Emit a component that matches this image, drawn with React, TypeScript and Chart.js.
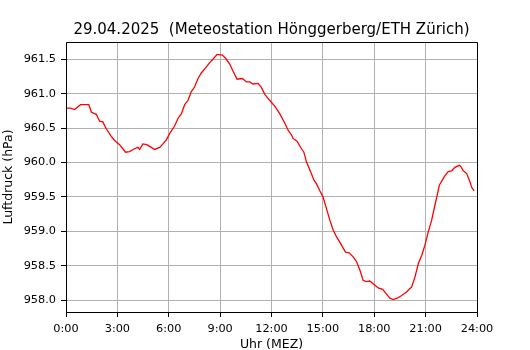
import React, { useEffect, useRef } from "react";
import { Chart, registerables } from "chart.js";

Chart.register(...registerables);

const titleText = "29.04.2025  (Meteostation Hönggerberg/ETH Zürich)";
const xLabel = "Uhr (MEZ)";
const yLabel = "Luftdruck (hPa)";

const hours = [
  0.0, 0.26, 0.5, 0.85, 1.33, 1.49, 1.77, 1.96, 2.15, 2.35, 2.64, 2.84, 3.13, 3.32, 3.48, 3.71,
  4.0, 4.2, 4.3, 4.49, 4.72, 4.98, 5.17, 5.47, 5.66, 5.86, 6.05, 6.34, 6.54, 6.74, 6.93, 7.12,
  7.32, 7.51, 7.71, 7.9, 8.2, 8.39, 8.58, 8.82, 9.13, 9.33, 9.56, 9.75, 9.99, 10.3, 10.54, 10.73,
  10.92, 11.21, 11.41, 11.61, 11.9, 12.19, 12.48, 12.78, 12.97, 13.17, 13.26, 13.49, 13.75, 13.89,
  14.04, 14.24, 14.49, 14.63, 14.82, 15.01, 15.21, 15.41, 15.6, 15.8, 16.09, 16.32, 16.53, 16.77,
  16.97, 17.16, 17.35, 17.55, 17.74, 18.04, 18.23, 18.49, 18.72, 18.91, 19.11, 19.34, 19.6, 19.89,
  20.08, 20.18, 20.38, 20.57, 20.77, 20.96, 21.15, 21.35, 21.54, 21.68, 21.8, 21.94, 22.13, 22.32,
  22.52, 22.71, 22.96, 23.06, 23.2, 23.4, 23.59, 23.69, 23.83,
];

const pressure = [
  960.79, 960.79, 960.77, 960.84, 960.84, 960.73, 960.7, 960.6, 960.59, 960.49, 960.38, 960.32,
  960.26, 960.2, 960.15, 960.16, 960.2, 960.22, 960.19, 960.27, 960.26, 960.22, 960.19, 960.22,
  960.27, 960.33, 960.42, 960.53, 960.64, 960.71, 960.84, 960.9, 961.03, 961.1, 961.22, 961.3,
  961.39, 961.45, 961.5, 961.57, 961.56, 961.51, 961.43, 961.33, 961.21, 961.22, 961.17, 961.17,
  961.14, 961.15, 961.09, 960.99, 960.9, 960.82, 960.71, 960.57, 960.47, 960.4, 960.35, 960.31,
  960.2, 960.15, 960.01, 959.89, 959.74, 959.69, 959.59, 959.5, 959.33, 959.16, 959.02, 958.92,
  958.8, 958.7, 958.69, 958.63, 958.56, 958.44, 958.29, 958.27, 958.28, 958.22, 958.18, 958.16,
  958.09, 958.03, 958.01, 958.03, 958.07, 958.12, 958.17, 958.19, 958.34, 958.53, 958.65, 958.8,
  958.99, 959.16, 959.38, 959.53, 959.67, 959.73, 959.81, 959.87, 959.88, 959.93, 959.96, 959.94,
  959.88, 959.84, 959.72, 959.64, 959.59,
];

const yTicks = [958.0, 958.5, 959.0, 959.5, 960.0, 960.5, 961.0, 961.5];
const xTicks = [0, 3, 6, 9, 12, 15, 18, 21, 24];

const FONT = "'DejaVu Sans', sans-serif";

const framePlugin = {
  id: "frameAndTexts",
  afterDatasetsDraw(chart: any) {
    const { ctx, chartArea } = chart;
    const l = Math.round(chartArea.left) + 0.5;
    const r = Math.round(chartArea.right) + 0.5;
    const t = Math.round(chartArea.top) + 0.5;
    const b = Math.round(chartArea.bottom) + 0.5;
    ctx.save();
    ctx.strokeStyle = "#000";
    ctx.lineWidth = 1;
    ctx.beginPath();
    ctx.rect(l, t, r - l, b - t);
    ctx.stroke();
    const cx = (chartArea.left + chartArea.right) / 2;
    ctx.fillStyle = "#000";
    ctx.textAlign = "center";
    ctx.textBaseline = "alphabetic";
    ctx.font = `15px ${FONT}`;
    ctx.fillText(titleText, cx, 34);
    ctx.font = `12.5px ${FONT}`;
    ctx.fillText(xLabel, cx, 348);
    ctx.translate(12, (chartArea.top + chartArea.bottom) / 2);
    ctx.rotate(-Math.PI / 2);
    ctx.fillText(yLabel, 0, 0);
    ctx.restore();
  },
};

export default function App() {
  const ref = useRef<HTMLCanvasElement | null>(null);
  useEffect(() => {
    if (!ref.current) return;
    const chart = new Chart(ref.current, {
      type: "line",
      data: {
        datasets: [
          {
            data: hours.map((h, i) => ({ x: h, y: pressure[i] })),
            borderColor: "#ff0000",
            borderWidth: 1.3,
            pointRadius: 0,
            tension: 0,
            fill: false,
          },
        ],
      },
      options: {
        animation: false,
        responsive: false,
        maintainAspectRatio: false,
        layout: { padding: { top: 42, right: 53, bottom: 0, left: 0 } },
        plugins: { legend: { display: false }, title: { display: false }, tooltip: { enabled: false } },
        scales: {
          x: {
            type: "linear",
            min: 0,
            max: 24,
            afterFit: (s: any) => {
              s.height = 38;
            },
            afterBuildTicks: (s: any) => {
              s.ticks = xTicks.map((v) => ({ value: v }));
            },
            border: { display: false },
            grid: { color: "#b0b0b0", lineWidth: 1, tickColor: "#000", tickLength: 5 },
            ticks: {
              color: "#000",
              font: { family: FONT, size: 11.3 },
              padding: 5,
              maxRotation: 0,
              autoSkip: false,
              callback: (v: any) => `${v}:00`,
            },
          },
          y: {
            type: "linear",
            min: 957.83,
            max: 961.75,
            afterFit: (s: any) => {
              s.width = 66;
            },
            afterBuildTicks: (s: any) => {
              s.ticks = yTicks.map((v) => ({ value: v }));
            },
            border: { display: false },
            grid: { color: "#b0b0b0", lineWidth: 1, tickColor: "#000", tickLength: 5 },
            ticks: {
              color: "#000",
              font: { family: FONT, size: 11.3 },
              padding: 5,
              autoSkip: false,
              callback: (v: any) => Number(v).toFixed(1),
            },
          },
        },
      },
      plugins: [framePlugin],
    });
    return () => chart.destroy();
  }, []);
  return (
    <div style={{ position: "fixed", left: 0, top: 0, width: 530, height: 350, background: "#fff" }}>
      <canvas ref={ref} width={530} height={350} style={{ width: 530, height: 350 }} />
    </div>
  );
}
